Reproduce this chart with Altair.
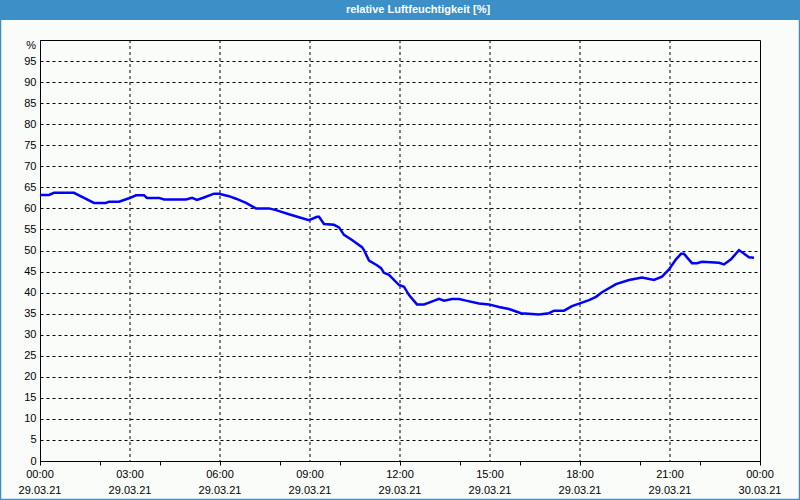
import altair as alt
import pandas as pd

# --- data ---
times = ["00:00", "00:18", "00:28", "01:08", "01:28", "01:48", "02:12", "02:18", "02:38", "02:58",
         "03:12", "03:28", "03:34", "03:58", "04:08", "04:52", "05:04", "05:14", "05:28", "05:48",
         "05:58", "06:18", "06:32", "06:52", "07:12", "07:38", "07:52", "08:18", "08:38", "08:58",
         "09:14", "09:18", "09:28", "09:48", "09:58", "10:08", "10:24", "10:44", "10:48", "10:58",
         "11:14", "11:22", "11:28", "11:38", "11:58", "12:08", "12:18", "12:34", "12:48", "13:02",
         "13:18", "13:28", "13:44", "13:58", "14:12", "14:38", "14:58", "15:18", "15:38", "16:02",
         "16:24", "16:38", "16:58", "17:08", "17:28", "17:44", "18:18", "18:32", "18:44", "19:12",
         "19:38", "20:04", "20:28", "20:44", "20:58", "21:12", "21:22", "21:28", "21:44", "21:54",
         "22:04", "22:38", "22:48", "23:02", "23:18", "23:38", "23:48"]
rh = [63.2, 63.2, 63.7, 63.7, 62.5, 61.3, 61.3, 61.6, 61.6, 62.4,
      63.1, 63.1, 62.5, 62.5, 62.1, 62.1, 62.5, 62.0, 62.6, 63.5,
      63.5, 62.9, 62.3, 61.3, 60.0, 60.0, 59.6, 58.6, 57.9, 57.2,
      58.0, 58.0, 56.3, 56.1, 55.5, 53.7, 52.5, 50.8, 50.1, 47.6,
      46.5, 45.8, 44.7, 44.2, 41.8, 41.4, 39.4, 37.2, 37.2, 37.8,
      38.5, 38.1, 38.5, 38.5, 38.1, 37.4, 37.2, 36.6, 36.1, 35.1,
      34.9, 34.8, 35.1, 35.7, 35.7, 36.8, 38.2, 39.0, 40.1, 42.0,
      43.0, 43.6, 43.0, 43.8, 45.5, 47.9, 49.2, 49.2, 47.0, 47.0,
      47.3, 47.1, 46.7, 47.9, 50.1, 48.4, 48.3]

label_hours = [0, 3, 6, 9, 12, 15, 18, 21, 24]
time_labels = ["00:00", "03:00", "06:00", "09:00", "12:00", "15:00", "18:00", "21:00", "00:00"]
date_labels = ["29.03.21", "29.03.21", "29.03.21", "29.03.21", "29.03.21",
               "29.03.21", "29.03.21", "29.03.21", "30.03.21"]
grid_hours = [3, 6, 9, 12, 15, 18, 21]
tick_hours = list(range(0, 25))
y_ticks = list(range(0, 100, 5))
title_text = "relative Luftfeuchtigkeit [%]"
unit_text = "%"

FONT = "Liberation Sans"
BLUE_BAR = "#3c8fc7"


def to_hours(t):
    h, m = t.split(":")
    return int(h) + int(m) / 60.0


df = pd.DataFrame({"h": [to_hours(t) for t in times], "rh": rh})
lab_df = pd.DataFrame({
    "h": label_hours,
    "lab": [f"{a}\n{b}" for a, b in zip(time_labels, date_labels)],
})

x_enc = alt.X(
    "h:Q",
    scale=alt.Scale(domain=[0, 24], nice=False, zero=False),
    axis=alt.Axis(
        values=tick_hours, labels=False, grid=False, title=None,
        tickSize=4, tickColor="black", domainColor="black",
    ),
)
y_enc = alt.Y(
    "rh:Q",
    scale=alt.Scale(domain=[0, 100], nice=False),
    axis=alt.Axis(
        values=y_ticks, grid=True, gridColor="black", gridDash=[3, 3], gridOpacity=1,
        gridWidth=1, ticks=False, title=None, domainColor="black",
        labelFont=FONT, labelFontSize=11, labelColor="black", labelPadding=4,
    ),
)

line = alt.Chart(df).mark_line(color="#0000ff", strokeWidth=2.5).encode(x=x_enc, y=y_enc)

vgrid = alt.Chart(pd.DataFrame({"h": grid_hours})).mark_rule(
    color="black", strokeDash=[3, 3], strokeWidth=1
).encode(x="h:Q")

xlabels = alt.Chart(lab_df).mark_text(
    font=FONT, fontSize=11, color="black", align="center", baseline="top",
    lineBreak="\n", lineHeight=16,
).encode(x="h:Q", y=alt.value(429), text="lab:N")

one = pd.DataFrame({"t": [title_text]})
bar = alt.Chart(one).mark_rect(color=BLUE_BAR).encode(
    x=alt.value(-40), x2=alt.value(760), y=alt.value(-40), y2=alt.value(-20)
)
border = alt.Chart(one).mark_rect(fill=None, stroke=BLUE_BAR, strokeWidth=1.5).encode(
    x=alt.value(-39.5), x2=alt.value(759.5), y=alt.value(-39.5), y2=alt.value(459.5)
)
title = alt.Chart(one).mark_text(
    font=FONT, fontSize=11, fontWeight="bold", color="white", align="center", baseline="middle"
).encode(x=alt.value(378), y=alt.value(-30), text="t:N")
unit = alt.Chart(pd.DataFrame({"t": [unit_text]})).mark_text(
    font=FONT, fontSize=11, color="black", align="right", baseline="middle"
).encode(x=alt.value(-4), y=alt.value(6), text="t:N")

chart = (
    alt.layer(bar, border, vgrid, line, xlabels, title, unit)
    .properties(
        width=720, height=421,
        autosize=alt.AutoSizeParams(type="none"),
        padding={"left": 40, "top": 40, "right": 40, "bottom": 39},
        background="#fafcfa",
    )
    .configure_view(stroke="black", strokeWidth=1)
)

chart.save("out.html", embed_options={"renderer": "svg", "actions": False})
